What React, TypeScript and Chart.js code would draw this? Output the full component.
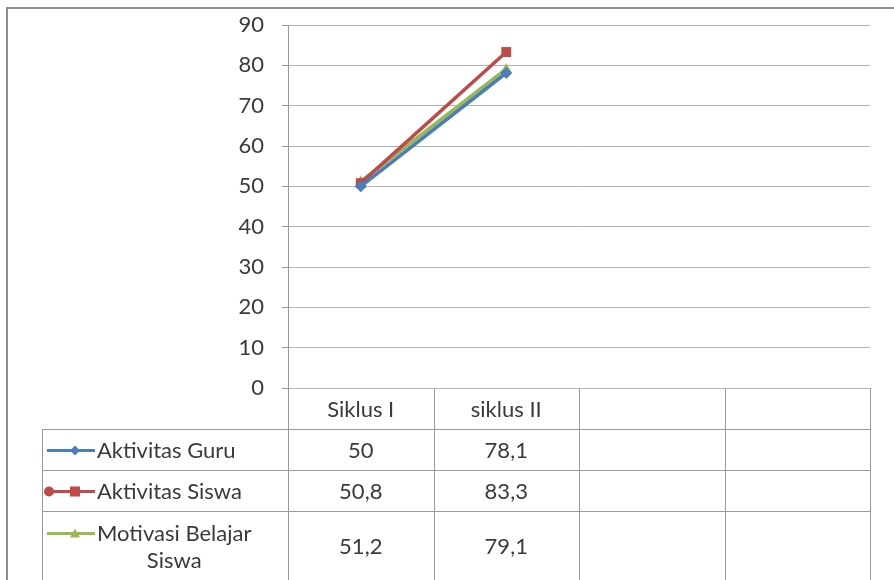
import React, { useEffect, useRef } from "react";
import { Chart, registerables } from "chart.js";

Chart.register(...registerables);

const categories = ["Siklus I", "siklus II", "", ""];
const seriesNames = ["Aktivitas Guru", "Aktivitas Siswa", "Motivasi Belajar Siswa"];
const aktivitasGuru = [50, 78.1];
const aktivitasSiswa = [50.8, 83.3];
const motivasiBelajar = [51.2, 79.1];
const yMin = 0;
const yMax = 90;
const yStep = 10;

const COLORS = ["#4a7ebb", "#be4b48", "#98b954"];
const MARKERS = ["rectRot", "rect", "triangle"];
const FONT = "Lato, 'Open Sans', sans-serif";
const TEXT = "#3a3a3a";

const fmt = (v: number) => String(v).replace(".", ",");

const tablePlugin = {
  id: "dataTable",
  beforeDraw(chart: any) {
    const { ctx } = chart;
    ctx.save();
    ctx.fillStyle = "#ffffff";
    ctx.fillRect(0, 0, chart.width, chart.height);
    ctx.strokeStyle = "#8c8c8c";
    ctx.lineWidth = 2;
    ctx.beginPath();
    ctx.moveTo(7, chart.height + 5);
    ctx.lineTo(7, 8);
    ctx.lineTo(chart.width + 5, 8);
    ctx.stroke();
    ctx.restore();
  },
  afterDraw(chart: any) {
    const { ctx, chartArea } = chart;
    const xs = chart.scales.x;
    const left = chartArea.left;
    const right = chartArea.right;
    const top0 = chartArea.bottom;
    const n = categories.length;
    const colW = (right - left) / n;
    const rowH = 41;
    const legendLeft = 42;
    const bottom = chart.height + 5;
    const datasets = chart.data.datasets;

    ctx.save();
    ctx.strokeStyle = "#9a9a9a";
    ctx.lineWidth = 1;
    for (let r = 1; r <= datasets.length; r++) {
      const y = Math.round(top0 + rowH * r) + 0.5;
      ctx.beginPath();
      ctx.moveTo(legendLeft, y);
      ctx.lineTo(right, y);
      ctx.stroke();
    }
    for (let c = 0; c <= n; c++) {
      const x = Math.round(left + colW * c) + 0.5;
      ctx.beginPath();
      ctx.moveTo(x, top0);
      ctx.lineTo(x, bottom);
      ctx.stroke();
    }
    ctx.beginPath();
    ctx.moveTo(legendLeft + 0.5, top0 + rowH);
    ctx.lineTo(legendLeft + 0.5, bottom);
    ctx.stroke();

    ctx.fillStyle = TEXT;
    ctx.textAlign = "center";
    ctx.textBaseline = "middle";
    ctx.font = `22px ${FONT}`;
    categories.forEach((c, i) => {
      const cx = xs.getPixelForValue(i);
      ctx.fillText(c, cx, top0 + rowH / 2 + 1);
    });

    datasets.forEach((ds: any, r: number) => {
      const yTop = top0 + rowH * (r + 1);
      const h = r === datasets.length - 1 ? 70 : rowH;
      const cy = yTop + h / 2 + 1;
      ds.data.forEach((v: any, i: number) => {
        if (v == null) return;
        ctx.fillStyle = TEXT;
        ctx.textAlign = "center";
        ctx.fillText(fmt(v), xs.getPixelForValue(i), cy);
      });
      const textX = 97;
      const maxW = left - textX - 4;
      const words = String(ds.label).split(" ");
      const lines: string[] = [];
      let cur = "";
      words.forEach((w) => {
        const t = cur ? cur + " " + w : w;
        if (ctx.measureText(t).width > maxW && cur) {
          lines.push(cur);
          cur = w;
        } else cur = t;
      });
      if (cur) lines.push(cur);
      const blockW = Math.max(...lines.map((l) => ctx.measureText(l).width));
      const lineH = 27;
      const firstY = cy - ((lines.length - 1) * lineH) / 2;
      ctx.fillStyle = TEXT;
      ctx.textAlign = "center";
      lines.forEach((l, k) => ctx.fillText(l, textX + blockW / 2, firstY + k * lineH));
      const keyY = lines.length > 1 ? firstY : cy;
      ctx.strokeStyle = ds.borderColor;
      ctx.lineWidth = 3;
      ctx.beginPath();
      ctx.moveTo(47, keyY);
      ctx.lineTo(95, keyY);
      ctx.stroke();
      ctx.fillStyle = ds.borderColor;
      const mx = 75;
      const s = 5;
      ctx.beginPath();
      if (ds.pointStyle === "rectRot") {
        ctx.moveTo(mx, keyY - s);
        ctx.lineTo(mx + s, keyY);
        ctx.lineTo(mx, keyY + s);
        ctx.lineTo(mx - s, keyY);
      } else if (ds.pointStyle === "rect") {
        ctx.rect(mx - s, keyY - s, 2 * s, 2 * s);
        ctx.moveTo(54, keyY);
        ctx.arc(49, keyY, 5, 0, Math.PI * 2);
      } else {
        ctx.moveTo(mx, keyY - s);
        ctx.lineTo(mx + s, keyY + s * 0.8);
        ctx.lineTo(mx - s, keyY + s * 0.8);
      }
      ctx.closePath();
      ctx.fill();
      ctx.strokeStyle = "#9a9a9a";
      ctx.lineWidth = 1;
    });
    ctx.restore();
  },
};

export default function App() {
  const ref = useRef<HTMLCanvasElement | null>(null);
  useEffect(() => {
    if (!ref.current) return;
    const seriesData = [aktivitasGuru, aktivitasSiswa, motivasiBelajar];
    const chart = new Chart(ref.current, {
      type: "line",
      data: {
        labels: categories,
        datasets: seriesData.map((d, i) => ({
          label: seriesNames[i],
          data: d,
          borderColor: COLORS[i],
          backgroundColor: COLORS[i],
          borderWidth: 3.5,
          pointStyle: MARKERS[i] as any,
          pointRadius: i === 1 ? 7 : 6,
          pointBorderWidth: 0,
          tension: 0,
        })),
      },
      options: {
        animation: false,
        responsive: false,
        maintainAspectRatio: false,
        layout: { autoPadding: false, padding: { left: 0, top: 25, right: 24, bottom: 192 } },
        plugins: { legend: { display: false }, tooltip: { enabled: false } },
        scales: {
          x: {
            type: "category",
            offset: true,
            display: false,
          },
          y: {
            min: yMin,
            max: yMax,
            afterFit: (s: any) => {
              s.width = 288;
              s.paddingTop = 0;
              s.paddingBottom = 0;
            },
            ticks: {
              stepSize: yStep,
              padding: 18,
              color: TEXT,
              font: { family: FONT, size: 22 },
            },
            grid: {
              color: "#b4b4b4",
              lineWidth: 1,
              tickLength: 6,
              tickColor: "#9a9a9a",
            },
            border: { color: "#9a9a9a", width: 1 },
          },
        },
      },
      plugins: [tablePlugin],
    });
    return () => chart.destroy();
  }, []);
  return (
    <div style={{ position: "fixed", left: 0, top: 0, width: 894, height: 580 }}>
      <canvas ref={ref} width={894} height={580} style={{ width: 894, height: 580 }} />
    </div>
  );
}
